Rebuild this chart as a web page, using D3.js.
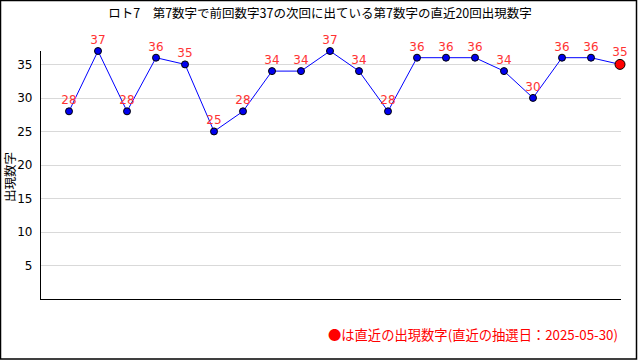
<!DOCTYPE html>
<html><head><meta charset="utf-8">
<script src="https://cdn.jsdelivr.net/npm/d3@7"></script>
<style>body{margin:0;background:#fff}svg{display:block}text{font-family:"Noto Sans CJK JP","DejaVu Sans",sans-serif}</style>
</head><body>
<svg id="c" width="640" height="360"></svg>
<script>
const title = "ロト7　第7数字で前回数字37の次回に出ている第7数字の直近20回出現数字";
const yTitle = "出現数字";
const footer = "●は直近の出現数字(直近の抽選日：2025-05-30)";
const values = [28,37,28,36,35,25,28,34,34,37,34,28,36,36,36,34,30,36,36,35];
const yTicks = [5,10,15,20,25,30,35];

(function(){
const svg = d3.select("#c");
svg.append("rect").attr("x",0.5).attr("y",0.5).attr("width",636).attr("height",358.5)
  .attr("fill","#fff").attr("stroke","#000").attr("stroke-width",1.5);

const pL=40, pR=620, pT=51, pB=299;
const x = d3.scaleLinear().domain([0, values.length]).range([pL, pR]);
const y = d3.scaleLinear().domain([0, 37]).range([pB, pT]);

svg.append("g").selectAll("line").data(yTicks).join("line")
  .attr("x1",pL).attr("x2",pR+1).attr("y1",d=>Math.round(y(d))+0.5).attr("y2",d=>Math.round(y(d))+0.5)
  .attr("stroke","#d9d9d9").attr("stroke-width",1);

const ya = svg.append("g").attr("transform",`translate(${pL+0.5},0)`)
  .call(d3.axisLeft(y).tickValues(yTicks).tickSize(0).tickPadding(8));
ya.select(".domain").remove();
ya.selectAll("text").attr("font-size",12).attr("fill","#000").style("font-family",'"DejaVu Sans",sans-serif');
svg.append("line").attr("x1",pL+0.5).attr("x2",pL+0.5).attr("y1",pT).attr("y2",pB+1).attr("stroke","#000");
svg.append("line").attr("x1",pL).attr("x2",pR+1).attr("y1",pB+0.5).attr("y2",pB+0.5).attr("stroke","#000");

svg.append("text").attr("x",320).attr("y",18).attr("text-anchor","middle").attr("font-size",12.5).attr("fill","#000").text(title);
svg.append("text").attr("transform","translate(15,177) rotate(-90)").attr("text-anchor","middle").attr("font-size",12.5).attr("fill","#000").text(yTitle);

const line = d3.line().x((d,i)=>x(i+1)).y(d=>y(d));
svg.append("path").datum(values).attr("d",line).attr("fill","none").attr("stroke","#0000ff").attr("stroke-width",1);

const last = values.length-1;
svg.append("g").selectAll("circle").data(values).join("circle")
  .attr("cx",(d,i)=>x(i+1)).attr("cy",d=>y(d))
  .attr("r",(d,i)=>i===last?5:3.5)
  .attr("fill",(d,i)=>i===last?"#ff0000":"#0000ee")
  .attr("stroke","#000").attr("stroke-width",1);

svg.append("g").selectAll("text").data(values).join("text")
  .attr("x",(d,i)=>x(i+1)).attr("y",(d,i)=>y(d)-(i===last?8:7))
  .attr("text-anchor","middle").attr("font-size",12).attr("fill","#ff3333")
  .style("font-family",'"DejaVu Sans",sans-serif')
  .text(d=>d);

svg.append("text").attr("x",618).attr("y",340).attr("text-anchor","end").attr("font-size",13.3).attr("fill","#ff0000").text(footer);
})();
</script>
</body></html>
